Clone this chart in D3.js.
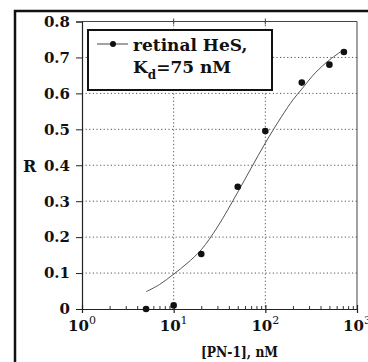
<!DOCTYPE html>
<html>
<head>
<meta charset="utf-8">
<script src="https://cdn.jsdelivr.net/npm/d3@7"></script>
<style>
  body { margin: 0; background: #fff; }
  svg text { font-family: "DejaVu Serif", serif; font-weight: bold; fill: #111; }
</style>
</head>
<body>
<svg id="chart" width="368" height="362"></svg>
<script>
// Measured binding: PN-1 concentration (nM) vs response R
const concentrations = [5, 10, 20, 50, 100, 250, 500, 720];
const responses = [0, 0.01, 0.153, 0.34, 0.495, 0.63, 0.68, 0.715];

// Fitted saturation curve (Kd = 75 nM), sampled along the plotted line
const fitConcentrations = [5, 7, 10, 14, 20, 30, 50, 70, 100, 150, 200, 250, 350, 500, 720];
const fitResponses = [0.048, 0.068, 0.097, 0.127, 0.165, 0.228, 0.325, 0.392, 0.462, 0.535, 0.582, 0.612, 0.657, 0.693, 0.722];

// Axis ticks
const yTicks = [0, 0.1, 0.2, 0.3, 0.4, 0.5, 0.6, 0.7, 0.8];
const yTickLabels = ["0", "0.1", "0.2", "0.3", "0.4", "0.5", "0.6", "0.7", "0.8"];
const yGrid = [0.1, 0.2, 0.3, 0.4, 0.5, 0.6, 0.7];
const xDecades = [1, 10, 100, 1000];
const xExponents = ["0", "1", "2", "3"];
const xGrid = [10, 100];

// Legend text
const seriesName = "retinal HeS,";
const kdSymbol = "K";
const kdSubscript = "d";
const kdValue = "=75 nM";
const xTitle = "[PN-1], nM";
const yTitle = "R";

const svg = d3.select("#chart");
const plotLeft = 82, plotRight = 357, plotTop = 21.5, plotBottom = 309;

const x = d3.scaleLog().domain([1, 1000]).range([plotLeft, plotRight]);
const y = d3.scaleLinear().domain([0, 0.8]).range([plotBottom, plotTop]);

// Outer panel border (left and top edges)
svg.append("path")
  .attr("d", `M15,362V11H368`)
  .attr("fill", "none").attr("stroke", "#111").attr("stroke-width", 2.5);

// Dotted grid
const grid = svg.append("g").attr("stroke", "#555").attr("stroke-width", 1)
  .attr("stroke-dasharray", "1.2,2.4");
grid.selectAll("line.h").data(yGrid).join("line").attr("class", "h")
  .attr("x1", plotLeft).attr("x2", plotRight)
  .attr("y1", d => y(d)).attr("y2", d => y(d));
grid.selectAll("line.v").data(xGrid).join("line").attr("class", "v")
  .attr("x1", d => x(d)).attr("x2", d => x(d))
  .attr("y1", plotTop).attr("y2", plotBottom);

// Top and right frame
svg.append("path")
  .attr("d", `M${plotLeft},${plotTop}H${plotRight}V${plotBottom}`)
  .attr("fill", "none").attr("stroke", "#444").attr("stroke-width", 1);

// Small decade ticks on the top frame
svg.append("g").selectAll("line").data(xGrid).join("line")
  .attr("x1", d => x(d)).attr("x2", d => x(d))
  .attr("y1", plotTop - 3).attr("y2", plotTop + 3)
  .attr("stroke", "#444");

// Y axis
const yAxis = svg.append("g").attr("transform", `translate(${plotLeft},0)`)
  .call(d3.axisLeft(y).tickValues(yTicks)
    .tickFormat((d, i) => yTickLabels[i]).tickSize(6).tickPadding(6));
yAxis.select(".domain").attr("stroke", "#222").attr("stroke-width", 1.2);
yAxis.selectAll(".tick line").attr("stroke", "#222");
yAxis.selectAll(".tick text").attr("font-size", 15).attr("fill", "#111")
  .attr("font-family", "DejaVu Serif").attr("font-weight", "bold");

// X axis: minor log ticks pointing inward, majors crossing the axis
const minorTicks = x.ticks().filter(d => !xDecades.includes(d));
const xAxis = svg.append("g").attr("transform", `translate(0,${plotBottom})`)
  .call(d3.axisBottom(x).tickValues(minorTicks).tickFormat("").tickSize(-3).tickSizeOuter(0));
xAxis.select(".domain").attr("stroke", "#222").attr("stroke-width", 1.2);
xAxis.selectAll(".tick line").attr("stroke", "#333");

const majors = svg.append("g").attr("transform", `translate(0,${plotBottom})`)
  .call(d3.axisBottom(x).tickValues(xDecades).tickFormat("").tickSize(4).tickSizeOuter(0));
majors.select(".domain").remove();
majors.selectAll(".tick line").attr("y1", -4).attr("stroke", "#222").attr("stroke-width", 1.2);

const xLabels = svg.append("g").selectAll("text").data(xDecades).join("text")
  .attr("x", d => x(d)).attr("y", 331).attr("text-anchor", "middle");
xLabels.append("tspan").attr("font-size", 15).text("10");
xLabels.append("tspan").attr("font-size", 11).attr("dy", -7)
  .attr("font-weight", "normal").text((d, i) => xExponents[i]);

// Axis titles
svg.append("text").attr("x", 23).attr("y", 172).attr("font-size", 16).text(yTitle);
svg.append("text").attr("x", 201).attr("y", 357).attr("font-size", 14)
  .attr("textLength", 77).attr("lengthAdjust", "spacingAndGlyphs").text(xTitle);

// Fit curve
const line = d3.line()
  .x((d, i) => x(fitConcentrations[i]))
  .y((d, i) => y(fitResponses[i]))
  .curve(d3.curveCatmullRom.alpha(0.5));
svg.append("path").datum(fitResponses)
  .attr("d", line)
  .attr("fill", "none").attr("stroke", "#555").attr("stroke-width", 1);

// Data points
svg.append("g").selectAll("circle").data(responses).join("circle")
  .attr("cx", (d, i) => x(concentrations[i]))
  .attr("cy", d => y(d))
  .attr("r", 3.3).attr("fill", "#111");

// Legend
const legend = svg.append("g");
legend.append("rect").attr("x", 88).attr("y", 30).attr("width", 184).attr("height", 60)
  .attr("fill", "#fff").attr("stroke", "#111").attr("stroke-width", 2);
legend.append("line").attr("x1", 97).attr("x2", 128).attr("y1", 44).attr("y2", 44)
  .attr("stroke", "#444").attr("stroke-width", 1);
legend.append("circle").attr("cx", 113).attr("cy", 44).attr("r", 3).attr("fill", "#111");
legend.append("text").attr("x", 133).attr("y", 51).attr("font-size", 17).text(seriesName);
const kd = legend.append("text").attr("x", 133).attr("y", 73).attr("font-size", 17);
kd.append("tspan").text(kdSymbol);
kd.append("tspan").attr("font-size", 12).attr("dy", 6).text(kdSubscript);
kd.append("tspan").attr("dy", -6).text(kdValue);
</script>
</body>
</html>
